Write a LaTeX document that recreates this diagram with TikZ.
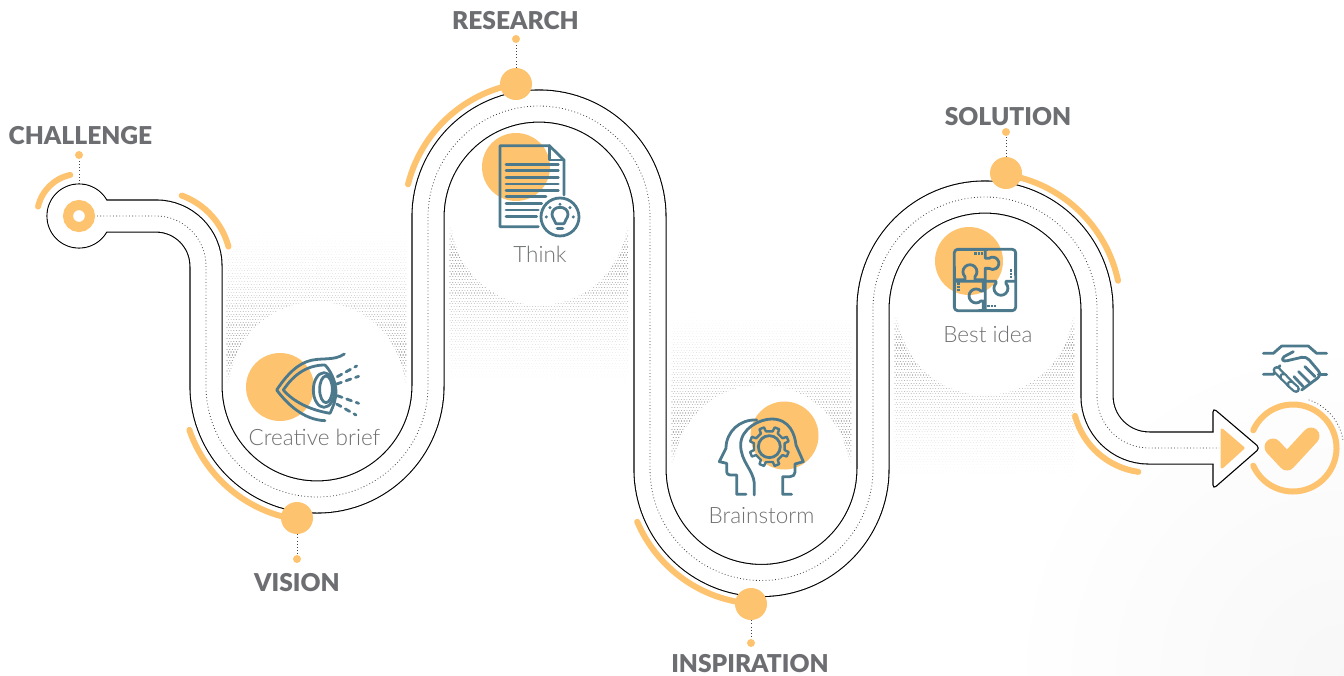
\documentclass[tikz,border=0pt]{standalone}
\usepackage{fontspec}
\setmainfont[BoldFont={Lato Black}]{Lato}
\newfontfamily\lightfont{Lato Light}
\definecolor{orangefill}{HTML}{FEC36F}
\definecolor{icontone}{HTML}{4C7A8C}
\definecolor{headtone}{HTML}{6D6E71}
\definecolor{softtone}{HTML}{6F7072}
\tikzset{
  roadline/.style={line width=1.1pt, black},
  centerdots/.style={line width=.8pt, black!75, dash pattern=on .8pt off 2.4pt},
  orangearc/.style={line width=6pt, orangefill, line cap=round},
  bigdot/.style={circle, fill=orangefill, inner sep=0pt, minimum size=32pt},
  tipdot/.style={circle, fill=orangefill, inner sep=0pt, minimum size=8pt},
  headlabel/.style={anchor=base, text=headtone, font=\fontsize{24.6}{26}\selectfont\bfseries},
  softlabel/.style={anchor=base, text=softtone, font=\fontsize{22.5}{25}\selectfont\lightfont},
  iconline/.style={line width=2.8pt, icontone, line cap=round, line join=round},
  dotrow/.style={line cap=round, dash pattern=on .01pt off 2.7pt},
}
\newcommand{\roadpath}{(79,216) -- (156,216) arc[start angle=90, end angle=0, radius=50pt]
  -- (206,386) arc[start angle=180, end angle=360, radius=111pt]
  -- (428,217) arc[start angle=180, end angle=0, radius=111pt]
  -- (650,469) arc[start angle=180, end angle=360, radius=111.5pt]
  -- (873,309) arc[start angle=180, end angle=0, radius=112pt]
  -- (1097,396) arc[start angle=180, end angle=270, radius=52pt]}
\newcommand{\ringarc}[5]{\draw[orangearc] (#1,#2) ++(#4:#3pt) arc[start angle=#4, end angle=#5, radius=#3pt];}
\newcommand{\dotpatch}[4]{%
  \pgfmathtruncatemacro\rows{abs(#4-#3)/2.7}
  \foreach \r in {0,...,\rows}{
    \pgfmathsetmacro\ry{#3+(#4-#3)*\r/\rows}
    \pgfmathsetmacro\op{48*(1-\r/\rows)*min(1,(\r+1)/10)}
    \pgfmathsetmacro\wd{.6+.9*(1-\r/\rows)}
    \pgfmathsetmacro\ph{mod(\r,2)*1.35}
    \draw[dotrow, black!\op, line width=\wd pt, dash phase=\ph pt] (#1,\ry) -- (#2,\ry);
  }}
\begin{document}
\begin{tikzpicture}[x=1pt, y=-1pt]
  \useasboundingbox (0,0) rectangle (1344,675);
  \begin{scope}
    \clip (0,0) rectangle (1344,675);
    \shade[inner color=black!3, outer color=white] (1344,675) circle (340pt);
  \end{scope}
  %%stipple
  \dotpatch{227}{407}{382}{230}
  \dotpatch{450}{628}{228}{385}
  \dotpatch{672}{852}{462}{312}
  \dotpatch{895}{1075}{318}{478}
  \fill[white] (317,390) circle (88pt);
  \fill[white] (539,217) circle (88pt);
  \fill[white] (761.5,473) circle (88pt);
  \fill[white] (985,307) circle (88pt);

  %%road
  \draw[roadline] (79,216) circle (32pt);
  \draw[roadline, rounded corners=4pt, fill=white] (1213,408) -- (1260,448) -- (1213,489) -- cycle;
  \draw[line width=33.2pt, black] \roadpath -- (1213,448);
  \fill[white] (79,216) circle (31.4pt);
  \draw[line width=31pt, white] \roadpath -- (1216,448);
  \draw[centerdots] (97,216) -- (156,216) arc[start angle=90, end angle=0, radius=50pt]
    -- (206,386) arc[start angle=180, end angle=360, radius=111pt]
    -- (428,217) arc[start angle=180, end angle=0, radius=111pt]
    -- (650,469) arc[start angle=180, end angle=360, radius=111.5pt]
    -- (873,309) arc[start angle=180, end angle=0, radius=112pt]
    -- (1097,396) arc[start angle=180, end angle=270, radius=52pt] -- (1219,448);

  %%orange arcs
  \ringarc{79}{216}{42}{102}{167}
  \ringarc{156}{266}{75}{70}{15}
  \ringarc{317}{386}{135}{199}{262}
  \ringarc{539}{217}{135}{166}{100}
  \ringarc{761.5}{469}{135}{203}{266}
  \ringarc{985}{309}{136}{81}{12}
  \ringarc{1149}{396}{76.6}{195}{262}

  %%start
  \node[circle, draw=orangefill, line width=10pt, fill=white, inner sep=0pt, minimum size=22pt] (startring) at (79,216) {};
  \node[tipdot] (chaltip) at (79,155) {};
  \draw[centerdots] (79,184) -- (chaltip);
  \node[headlabel] (chaltext) at (80.5,144) {CHALLENGE};

  %%stops
  \node[bigdot] (visdot) at (297,518) {};
  \node[tipdot] (vistip) at (297,559) {};
  \draw[centerdots] (visdot) -- (vistip);
  \node[headlabel] (vistext) at (297,591) {VISION};

  \node[bigdot] (resdot) at (516,84) {};
  \node[tipdot] (restip) at (516,39) {};
  \draw[centerdots] (resdot) -- (restip);
  \node[headlabel] (restext) at (515.5,29) {RESEARCH};

  \node[bigdot] (insdot) at (751,604) {};
  \node[tipdot] (instip) at (751,643) {};
  \draw[centerdots] (insdot) -- (instip);
  \node[headlabel] (instext) at (750,672) {INSPIRATION};

  \node[bigdot] (soldot) at (1006,173) {};
  \node[tipdot] (soltip) at (1006,132) {};
  \draw[centerdots] (soldot) -- (soltip);
  \node[headlabel] (soltext) at (1008,125) {SOLUTION};

  %%end
  \fill[orangefill, draw=orangefill, line width=3pt, line join=round] (1222,430) -- (1243,448) -- (1222,467) -- cycle;
  \draw[line width=6pt, orangefill, line cap=round] (1293,448) ++(156:43.5pt) arc[start angle=156, end angle=-156, radius=43.5pt];
  \draw[line width=17pt, orangefill, line cap=round, line join=round] (1273,447) -- (1287,462) -- (1311,436);
  \draw[centerdots] (1293,448) ++(72:50.6pt) arc[start angle=72, end angle=9, radius=50.6pt];

  %%blobs
  \fill[orangefill] (280,387) circle (34pt);
  \fill[orangefill] (516,167) circle (34pt);
  \fill[orangefill] (784.5,435.5) circle (34pt);
  \fill[orangefill] (969,261) circle (34pt);

  %%eye
  \begin{scope}[shift={(230,330)}, x=.3333pt, y=-.3333pt]
    \draw[iconline] (343,72) .. controls (310,95) and (270,80) .. (230,95) .. controls (190,110) and (160,150) .. (140,180) .. controls (170,220) and (220,270) .. (285,272);
    \draw[iconline] (285,105) .. controls (230,105) and (190,135) .. (160,180) .. controls (190,215) and (240,240) .. (300,250) .. controls (312,225) and (318,205) .. (318,185) .. controls (318,160) and (305,125) .. (285,105);
    \draw[iconline] (282,180) ellipse (32 and 52);
    \draw[iconline] (288,178) ellipse (19 and 40);
    \draw[iconline, dash pattern=on 5pt off 5pt] (322,140) -- (380,108);
    \draw[iconline, dash pattern=on 5pt off 5pt] (320,162) -- (386,139);
    \draw[iconline, dash pattern=on 5pt off 5pt] (322,197) -- (386,220);
    \draw[iconline, dash pattern=on 5pt off 5pt] (320,222) -- (378,255);
  \end{scope}
  \node[softlabel] (eyetext) at (314.5,445) {Creative brief};

  %%document
  \begin{scope}[shift={(470,125)}, x=.3333pt, y=-.3333pt]
    \draw[iconline] (282,210) -- (282,105) -- (238,62) -- (90,62) -- (90,305) -- (205,305);
    \draw[iconline] (238,62) -- (238,105) -- (282,105);
    \foreach \rowy/\rowx in {118/265, 137/265, 157/265, 177/265, 197/265, 215/228, 235/215, 255/205, 275/200}{
      \draw[iconline] (108,\rowy) -- (\rowx,\rowy);
    }
    \draw[iconline] (270,276) circle (57);
    \draw[iconline] (258,296) .. controls (256,285) and (246,280) .. (246,268) .. controls (246,240) and (294,240) .. (294,268) .. controls (294,280) and (284,285) .. (282,296) -- cycle;
    \draw[iconline, line width=3.4pt] (262,310) -- (278,310);
    \foreach \bulbx/\bulby in {270/238, 240/248, 300/248, 229/276, 310/276}{
      \fill[icontone] (\bulbx,\bulby) circle (5);
    }
  \end{scope}
  \node[softlabel] (doctext) at (540,262) {Think};

  %%heads
  \begin{scope}[shift={(700,395)}, x=.3333pt, y=-.3333pt]
    \draw[iconline] (163,300) -- (163,265) .. controls (160,225) and (122,200) .. (122,150) .. controls (122,100) and (180,72) .. (215,72) .. controls (270,72) and (285,120) .. (288,150) -- (310,200) -- (285,207) -- (285,232) .. controls (285,240) and (278,245) .. (270,245) -- (248,245) -- (248,298) -- (275,298);
    \draw[iconline] (138,298) -- (110,298) -- (110,240) -- (90,240) .. controls (84,240) and (80,236) .. (80,230) -- (80,205) -- (58,200) -- (78,160) .. controls (78,110) and (120,72) .. (170,75);
    \begin{scope}[shift={(208,155)}]
      \draw[iconline, line width=2.4pt] (12.5:47) \foreach \a in {22.5,67.5,...,337.5}{ -- (\a-10:47) -- (\a-7:60) -- (\a+7:60) -- (\a+10:47)} -- cycle;
      \draw[iconline] (0,0) circle (33);
    \end{scope}
  \end{scope}
  \node[softlabel] (headtext) at (761.5,523) {Brainstorm};

  %%puzzle
  \begin{scope}[shift={(925,220)}, x=.3333pt, y=-.3333pt]
    \draw[iconline] (88,98) arc[start angle=180, end angle=90, radius=3.3pt] -- (262,88) arc[start angle=90, end angle=0, radius=3.3pt] -- (272,262) arc[start angle=0, end angle=-90, radius=3.3pt] -- (98,272) arc[start angle=-90, end angle=-180, radius=3.3pt] -- cycle;
    \draw[iconline] (88,179) -- (120,179) -- (120,170) arc[start angle=225, end angle=-45, radius=7pt] -- (150,179) -- (176,179);
    \draw[iconline] (181,88) -- (181,115) -- (192,115) arc[start angle=126, end angle=-126, radius=6.2pt] -- (181,145) -- (181,272);
    \draw[iconline] (181,184) -- (213,184) -- (213,190) arc[start angle=135, delta angle=270, radius=7pt] -- (243,184) -- (272,184);
    \draw[iconline] (88,184) -- (175,184) -- (175,213) -- (168,213) arc[start angle=45, delta angle=270, radius=7pt] -- (175,243) -- (175,272);
    \foreach \k in {0,1,2}{
      \fill[icontone] (148+10*\k,97) rectangle ++(7,7);
      \fill[icontone] (255,148+10*\k) rectangle ++(7,7);
      \fill[icontone] (97,187+10*\k) rectangle ++(7,7);
      \fill[icontone] (187+10*\k,255) rectangle ++(7,7);
    }
  \end{scope}
  \node[softlabel] (puzzletext) at (988,342) {Best idea};

  %%handshake
  \begin{scope}[shift={(1060,335)}, x=.3333pt, y=-.3333pt]
    \draw[iconline] (610,55) -- (640,55) -- (665,33) -- (745,33) -- (770,55) -- (800,55);
    \draw[iconline] (610,118) -- (640,118) -- (660,92);
    \draw[iconline] (775,118) -- (800,118);
    \draw[iconline] (700,50) -- (672,65) .. controls (662,75) and (670,80) .. (682,77) -- (725,67) .. controls (735,66) and (742,68) .. (748,75) -- (775,107) .. controls (782,116) and (780,122) .. (772,130) -- (725,165);
    \draw[iconline] (735,95) -- (765,125);
    \draw[iconline] (716,110) -- (748,142);
    \draw[iconline] (702,125) -- (730,155);
    \foreach \capA/\capB/\capC/\capD in {650/105/672/128, 670/125/692/148, 692/148/708/162}{
      \draw[icontone, line width=8pt, line cap=round] (\capA,\capB) -- (\capC,\capD);
      \draw[white, line width=3.4pt, line cap=round] (\capA,\capB) -- (\capC,\capD);
    }
  \end{scope}
\end{tikzpicture}
\end{document}
